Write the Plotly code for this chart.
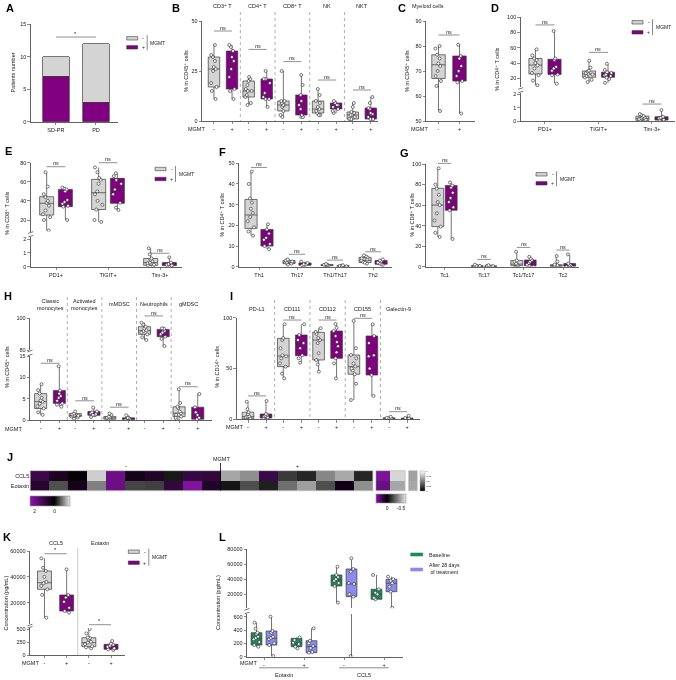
import plotly.graph_objects as go

# ======================= DATA =======================
A_categories = ["SD-PR", "PD"]
A_mgmt_pos = [7, 3]
A_mgmt_neg = [3, 9]

# box statistics are [min, q1, median, q3, max]
B_groups = ["CD3⁺ T", "CD4⁺ T", "CD8⁺ T", "NK", "NKT"]
B_neg_stats = [[11, 17, 26, 32, 38], [8, 12, 15, 20, 22], [2, 5, 8, 10, 25], [3, 4, 6, 10, 16], [0.5, 1, 3, 4.5, 9]]
B_pos_stats = [[11, 16, 26, 35, 38], [7, 11, 14, 21, 25], [2, 3, 8, 13, 23], [4, 6, 8, 9, 10], [0.5, 1, 3.5, 6.5, 12]]
B_neg_pts = [[11, 15, 17, 19, 25, 26, 27, 30, 32, 33, 38], [8, 9, 12, 13, 15, 15, 16, 18, 20, 21, 22],
             [2, 3, 5, 7, 8, 8, 9, 10, 10, 25], [3, 3, 4, 5, 6, 7, 9, 10, 13, 16], [0.5, 1, 1, 2, 3, 3, 4, 4.5, 7, 9]]
B_pos_pts = [[11, 15, 16, 22, 26, 30, 32, 35, 37, 38], [7, 11, 11, 12, 14, 19, 21, 21, 25],
             [2, 2, 3, 6, 8, 10, 13, 18, 23], [4, 5, 6, 7, 8, 8, 9, 10], [0.5, 1, 1, 2, 3.5, 4, 6, 6.5, 9, 12]]
B_ns = [45, 35.8, 29.7, 20.5, 15.5]

C_title = "Myeloid cells"
C_neg_stats = [[54, 67, 72.5, 76.5, 80]]
C_pos_stats = [[53, 66, 70, 76, 80.5]]
C_neg_pts = [[54, 64, 66, 68, 70, 72, 73, 75, 76.5, 79, 80]]
C_pos_pts = [[53, 65.5, 66, 68, 70, 72, 75, 76, 80.5]]
C_ns = [84.4]

D_groups = ["PD1+", "TIGIT+", "Tim-3+"]
D_neg_stats = [[11, 25.6, 37.4, 46, 58.4], [15, 21.3, 25.6, 29.6, 42.7], [0.02, 0.05, 0.2, 0.37, 0.52]]
D_pos_stats = [[13.4, 25, 33, 45, 82], [14, 21.3, 24.3, 28, 38.8], [0.02, 0.07, 0.2, 0.32, 0.82]]
D_neg_pts = [[11, 17, 24, 27, 33, 37, 40, 44, 46, 50, 58], [15, 18, 21, 23, 25, 26, 27, 29, 30, 34, 43],
             [0.02, 0.05, 0.1, 0.15, 0.2, 0.25, 0.3, 0.37, 0.45, 0.52]]
D_pos_pts = [[13, 24, 25, 30, 33, 35, 44, 46, 82], [14, 19, 21, 23, 24, 25, 27, 28, 31, 39],
             [0.02, 0.07, 0.1, 0.2, 0.25, 0.32, 0.82]]
D_ns = [90, 54, 1.27]

E_groups = ["PD1+", "TIGIT+", "Tim-3+"]
E_neg_stats = [[9, 25.2, 37.5, 44.4, 70], [18, 31, 48.6, 62.6, 75], [0.05, 0.1, 0.3, 0.6, 1.34]]
E_pos_stats = [[20, 34, 38.5, 52, 54], [30.5, 37.5, 52.5, 63.6, 69], [0.05, 0.08, 0.15, 0.3, 0.68]]
E_neg_pts = [[9, 20, 23, 26, 30, 35, 38, 40, 44, 47, 55, 70], [18, 20, 31, 36, 40, 47, 50, 58, 62, 64, 70, 75],
             [0.05, 0.1, 0.15, 0.25, 0.3, 0.4, 0.5, 0.6, 0.9, 1.34]]
E_pos_pts = [[20, 34, 35, 37, 39, 41, 50, 52, 53, 54], [30.5, 33, 38, 47, 52, 58, 62, 66, 69],
             [0.05, 0.08, 0.1, 0.15, 0.2, 0.3, 0.68]]
E_ns = [75.8, 80, 0.98]

F_groups = ["Th1", "Th17", "Th1/Th17", "Th2"]
F_neg_stats = [[15, 18.5, 25, 32.5, 46], [1, 1.5, 2, 3, 3.5], [0.3, 0.5, 0.8, 1.0, 1.3], [1.5, 2, 3, 4.5, 5.5]]
F_pos_stats = [[8.5, 10, 13.5, 18, 20.5], [0.5, 0.7, 1, 1.8, 2.5], [0.1, 0.2, 0.3, 0.5, 0.7], [0.8, 1.2, 2, 3, 3.5]]
F_neg_pts = [[15, 17, 19, 22, 24, 26, 28, 31, 33, 40, 46], [1, 1.5, 2, 2, 2.5, 3, 3, 3.5],
             [0.3, 0.5, 0.7, 0.8, 0.9, 1.0, 1.3], [1.5, 2, 2.5, 3, 3.5, 4, 4.5, 5, 5.5]]
F_pos_pts = [[8.5, 10, 11, 13, 14, 16, 18, 20.5], [0.5, 0.7, 1, 1.2, 1.8, 2.5],
             [0.1, 0.2, 0.3, 0.4, 0.5, 0.7], [0.8, 1.2, 1.5, 2, 2.5, 3, 3.5]]
F_ns = [48, 6, 3.2, 7.2]

G_groups = ["Tc1", "Tc17", "Tc1/Tc17", "Tc2"]
G_neg_stats = [[29, 39, 60, 76.3, 95.8], [0, 0.2, 0.5, 1, 2], [0, 1, 2.5, 6, 14.6], [0, 0.3, 1, 2, 10.4]]
G_pos_stats = [[27, 55, 65, 79, 82], [0, 0.2, 0.4, 0.8, 1.5], [0, 1, 3.5, 6.5, 9.7], [0, 0.5, 1.5, 3, 12]]
G_neg_pts = [[29, 33, 39, 45, 52, 60, 63, 70, 76, 80, 95.8], [0, 0.2, 0.3, 0.5, 0.8, 1, 2],
             [0, 0.5, 1, 2, 3, 5, 6, 14.6], [0, 0.3, 0.5, 1, 1.5, 2, 5, 10.4]]
G_pos_pts = [[27, 55, 58, 63, 67, 72, 77, 79, 82], [0, 0.2, 0.4, 0.6, 0.8, 1.5],
             [0, 1, 2, 3.5, 5, 6.5, 8, 9.7], [0, 0.5, 1, 1.5, 2, 3, 12]]
G_ns = [100.6, 7.1, 18.8, 16.2]

H_groups = ["Classic<br>monocytes", "Activated<br>monocytes", "mMDSC", "Neutrophils", "gMDSC"]
H_neg_stats = [[1.2, 2.7, 4.3, 6.2, 8.4], [0.3, 0.8, 1.0, 1.5, 2.0], [0, 0.2, 0.5, 0.8, 1.5],
               [86.3, 89.9, 92.2, 94.7, 97.2], [0, 0.8, 1.6, 3.1, 7.2]]
H_pos_stats = [[3.1, 3.9, 5.5, 6.9, 12.6], [0.7, 1.1, 1.5, 2.0, 2.9], [0, 0.1, 0.3, 0.5, 1.1],
               [82.5, 88.4, 91.2, 93, 93.7], [0, 0.2, 1.2, 3.0, 6.1]]
H_neg_pts = [[1.2, 1.8, 2.7, 3.2, 3.8, 4.3, 4.6, 5.2, 6.2, 7, 8.4], [0.3, 0.6, 0.8, 0.9, 1.0, 1.1, 1.3, 1.5, 2.0],
             [0, 0.2, 0.3, 0.5, 0.6, 0.8, 1.2, 1.5], [86.3, 88, 89.9, 91, 92, 92.5, 93.5, 94.7, 96, 97.2],
             [0, 0.5, 0.8, 1.2, 1.6, 2, 2.8, 3.1, 4, 7.2]]
H_pos_pts = [[3.1, 3.6, 3.9, 4.5, 5.2, 5.6, 6.2, 6.9, 12.6], [0.7, 1.1, 1.2, 1.4, 1.6, 1.8, 2.0, 2.9],
             [0, 0.1, 0.2, 0.3, 0.4, 0.5, 1.1], [82.5, 87, 88.4, 90, 91, 92, 93, 93.5, 93.7],
             [0, 0.2, 0.5, 1.2, 1.8, 3, 6.1]]
H_ns = [13.3, 4.5, 3.0, 101.5, 7.8]

I_groups = ["PD-L1", "CD111", "CD112", "CD155", "Galectin-9"]
I_neg_stats = [[0, 0.5, 2.6, 7, 17.3], [40.3, 51.8, 62.3, 79.7, 93.5], [46.9, 58.4, 78, 85.6, 89.6],
               [19, 44.3, 51.8, 63.3, 96.8], [0, 0.3, 0.8, 1.5, 2.5]]
I_pos_stats = [[0.5, 1.3, 3.5, 5.2, 18], [55.7, 62.6, 74.8, 83, 93.5], [40.3, 60, 72.8, 86.9, 93.8],
               [23, 43.6, 62.3, 82, 93.5], [0, 0.2, 0.5, 1.2, 3.5]]
I_neg_pts = [[0, 0.5, 1, 2, 2.6, 3, 5, 7, 10, 17.3], [40.3, 45, 51.8, 55, 60, 62, 63, 70, 78, 80, 93.5],
             [46.9, 54, 58.4, 65, 75, 78, 80, 84, 86, 89.6], [19, 35, 44.3, 48, 50, 52, 55, 60, 63.3, 70, 96.8],
             [0, 0.3, 0.5, 0.8, 1, 1.5, 2.5]]
I_pos_pts = [[0.5, 1.3, 2, 3, 3.5, 4.5, 5.2, 18], [55.7, 60, 63, 70, 75, 78, 83, 93.5],
             [40.3, 55, 60, 66, 72, 76, 82, 87, 90, 93.8], [23, 43.6, 50, 62, 63, 75, 82, 93.5],
             [0, 0.2, 0.4, 0.5, 1, 1.2, 3.5]]
I_ns = [23, 97.7, 97.7, 99.4, 7.5]

J_rows = ["CCL5", "Eotaxin"]
J_ccl5 = [1.02, 0.46, 0.10, -1.39, 1.87, 0.37, 0.56, -0.16, 0.93, 0.85,
          -1.12, -0.96, 1.02, -0.39, -0.25, -0.91, -1.14, -0.25]
J_eotaxin = [0.65, -0.53, 0.37, -0.86, 1.87, -0.46, -0.43, 0.85, 2.25, 0.56,
             -0.14, -0.53, -0.21, -0.75, -1.07, -0.53, 0.28, -0.96]
J_side_ccl5 = [0.35, -0.63]
J_side_eotaxin = [0.30, -0.49]
J_single = [0.63, 0.66]

K_groups = ["CCL5", "Eotaxin"]
K_neg_stats = [[8300, 30300, 35400, 44500, 54300], [130, 162, 240, 337, 506]]
K_pos_stats = [[12200, 13500, 20700, 25900, 45800], [97, 110, 162, 208, 272]]
K_neg_pts = [[8300, 26000, 30300, 33000, 35000, 36000, 40000, 44500, 47000, 54300],
             [130, 150, 170, 210, 240, 260, 300, 330, 340, 420, 506]]
K_pos_pts = [[12200, 13500, 16000, 20700, 24000, 25900, 45800], [97, 110, 130, 160, 180, 200, 220, 272]]
K_sig = [57900, 590]

L_groups = ["Eotaxin", "CCL5"]
L_base_stats = [[150, 175, 275, 360, 510], [125, 150, 200, 275, 290],
                [8600, 30900, 39000, 45700, 56800], [13100, 13100, 19800, 26500, 45700]]
L_post_stats = [[10, 175, 275, 385, 600], [60, 60, 150, 240, 425],
                [10, 16600, 33600, 53700, 68000], [1500, 23300, 34600, 40000, 43400]]
L_base_pts = [[150, 175, 220, 260, 280, 300, 340, 360, 420, 510], [125, 150, 190, 210, 250, 290],
              [8600, 30900, 35000, 38000, 40000, 43000, 45700, 56800], [13100, 15000, 19800, 22000, 26500, 45700]]
L_post_pts = [[10, 175, 200, 260, 280, 300, 360, 385, 600], [60, 70, 130, 160, 200, 240, 425],
              [10, 16600, 20000, 33600, 35000, 50000, 53700, 68000], [1500, 23300, 30000, 34600, 38000, 40000, 43400]]

# ======================= STYLE / HELPERS =======================
W, H = 676, 680
PURPLE = '#800080'
GRAY = '#d4d4d4'
EDGE = '#3a3a3a'
AXC = '#3a3a3a'
TXT = '#1a1a1a'
GREEN = '#1b8a5a'
LAV = '#8b8bef'
FONT = 'Liberation Sans, Arial, DejaVu Sans, sans-serif'
TS = 5.5

fig = go.Figure()
LAY, SHP, ANN = {}, [], []
_n = [0]


def fmt(v):
    return str(int(v)) if float(v).is_integer() else str(v)


def add_axes(px0, px1, py0, py1, xr, yr, xline=True, yline=True, xtv=None, xtt=None, ytv=None, ytt=None):
    _n[0] += 1
    k = '' if _n[0] == 1 else str(_n[0])
    base = dict(showgrid=False, zeroline=False, linecolor=AXC, linewidth=0.8, tickcolor=AXC,
                tickwidth=0.6, ticklen=2.5, tickfont=dict(size=TS, color=TXT, family=FONT), fixedrange=True)
    xa = dict(base, domain=[px0 / W, px1 / W], range=xr, anchor='y' + k, showline=xline)
    if xtv is None:
        xa.update(showticklabels=False, ticks='')
    else:
        xa.update(tickmode='array', tickvals=xtv, ticktext=xtt, ticks='outside' if xline else '')
    ya = dict(base, domain=[1 - py1 / H, 1 - py0 / H], range=yr, anchor='x' + k, showline=yline)
    if ytv is None:
        ya.update(showticklabels=False, ticks='')
    else:
        ya.update(tickmode='array', tickvals=ytv, ticktext=ytt if ytt is not None else [fmt(v) for v in ytv],
                  ticks='outside' if yline else '')
    LAY['xaxis' + k] = xa
    LAY['yaxis' + k] = ya
    return dict(x='x' + k, y='y' + k, px0=px0, px1=px1, py0=py0, py1=py1, xr=xr, yr=yr)


def dx(ax, v):
    a, b = ax['xr']
    return ax['px0'] + (v - a) / (b - a) * (ax['px1'] - ax['px0'])


def dy(ax, v):
    a, b = ax['yr']
    return ax['py1'] - (v - a) / (b - a) * (ax['py1'] - ax['py0'])


def txt(xp, yp, s, size=TS, xa='center', ya='middle', angle=0, bold=False, color=TXT):
    ANN.append(dict(x=xp / W, y=1 - yp / H, xref='paper', yref='paper', text=('<b>%s</b>' % s) if bold else s,
                    showarrow=False, font=dict(size=size, color=color, family=FONT), xanchor=xa, yanchor=ya,
                    textangle=angle, borderpad=0))


def seg(x0, y0, x1, y1, color=AXC, w=0.7, dash=None):
    SHP.append(dict(type='line', xref='paper', yref='paper', x0=x0 / W, y0=1 - y0 / H, x1=x1 / W, y1=1 - y1 / H,
                    line=dict(color=color, width=w, dash=dash)))


def rect(x0, y0, x1, y1, fill, lc=EDGE, w=0.6):
    SHP.append(dict(type='rect', xref='paper', yref='paper', x0=x0 / W, y0=1 - y1 / H, x1=x1 / W, y1=1 - y0 / H,
                    fillcolor=fill, line=dict(color=lc, width=w)))


def boxes(ax, pos, stats, pts, color, width):
    """Draw boxes on one axis segment; parts outside the segment's range are left out."""
    lo, hi = ax['yr']
    bp, bs, whisk = [], [], []
    for p, s in zip(pos, stats):
        if s[4] < lo or s[0] > hi:
            continue
        if s[1] <= hi and s[3] >= lo:
            bp.append(p)
            bs.append([max(s[0], lo), max(s[1], lo), s[2], min(s[3], hi), min(s[4], hi)])
        else:
            whisk.append((p, max(s[0], lo), min(s[4], hi)))
    if bp:
        fig.add_trace(go.Box(
            x=bp, lowerfence=[s[0] for s in bs], q1=[s[1] for s in bs], median=[s[2] for s in bs],
            q3=[s[3] for s in bs], upperfence=[s[4] for s in bs], width=width, fillcolor=color,
            line=dict(color=EDGE, width=0.7), whiskerwidth=0, boxpoints=False,
            xaxis=ax['x'], yaxis=ax['y'], showlegend=False, hoverinfo='skip'))
    for p, a, b in whisk:
        fig.add_trace(go.Scatter(x=[p, p], y=[a, b], mode='lines', line=dict(color=EDGE, width=0.7),
                                 xaxis=ax['x'], yaxis=ax['y'], showlegend=False, hoverinfo='skip'))
    xs, ys = [], []
    for p, vals in zip(pos, pts):
        for v in vals:
            if lo <= v <= hi:
                xs.append(p)
                ys.append(v)
    if xs:
        fig.add_trace(go.Box(
            x=xs, y=ys, width=width, boxpoints='all', jitter=0.65, pointpos=0,
            fillcolor='rgba(0,0,0,0)', line=dict(color='rgba(0,0,0,0)', width=0), whiskerwidth=0,
            marker=dict(size=3, color='white', line=dict(color='#222222', width=0.6)),
            xaxis=ax['x'], yaxis=ax['y'], showlegend=False, hoverinfo='skip'))


def sig(ax, x0, x1, yv, s='<i>ns</i>'):
    X0, X1, Y = dx(ax, x0), dx(ax, x1), dy(ax, yv)
    seg(X0, Y, X1, Y, color='#444444', w=0.6)
    txt((X0 + X1) / 2, Y - 3.3, s)


def ytitle(xp, yp, s):
    txt(xp, yp, s, angle=-90)


def letter(xp, yp, s):
    txt(xp, yp, s, size=11, bold=True, color='#000000')


def legend_mgmt(x0, y1, y2):
    rect(x0, y1 - 1.7, x0 + 11, y1 + 1.7, GRAY)
    rect(x0, y2 - 1.7, x0 + 11, y2 + 1.7, PURPLE)
    txt(x0 + 16.5, y1, '-', size=5)
    txt(x0 + 16.5, y2, '+', size=5)
    seg(x0 + 20.5, y1 - 3, x0 + 20.5, y2 + 3, w=0.6)
    txt(x0 + 22.5, (y1 + y2) / 2, 'MGMT', xa='left', size=5)


def brk(xp, yt, yb):
    for yy in (yt + 1, yb - 1):
        seg(xp - 2.5, yy + 0.8, xp + 2.5, yy - 0.8, w=0.7)


def vsep(xp, yt, yb, dash='dot', color='#777777'):
    seg(xp, yt, xp, yb, color=color, w=0.6, dash=dash)


# ======================= PANEL A =======================
axA = add_axes(30.7, 118, 24, 121.7, [-0.63, 1.55], [0, 15], xtv=[0, 1], xtt=A_categories, ytv=[0, 5, 10, 15])
fig.add_trace(go.Bar(x=[0, 1], y=A_mgmt_pos, width=0.665, marker=dict(color=PURPLE, line=dict(color=EDGE, width=0.7)),
                     xaxis=axA['x'], yaxis=axA['y'], showlegend=False, hoverinfo='skip'))
fig.add_trace(go.Bar(x=[0, 1], y=A_mgmt_neg, width=0.665, marker=dict(color=GRAY, line=dict(color=EDGE, width=0.7)),
                     xaxis=axA['x'], yaxis=axA['y'], showlegend=False, hoverinfo='skip'))
sig(axA, 0, 1, 13.0, '*')
ytitle(12.5, 73, 'Patients number')
legend_mgmt(126.7, 38.3, 47.3)
letter(10, 8, 'A')

# ======================= PANEL B =======================
oB = 0.26
axB = add_axes(202, 378, 21, 121, [-0.605, 4.467], [0, 50],
               xtv=[i + o for i in range(5) for o in (-oB, oB)], xtt=['-', '+'] * 5, ytv=[0, 25, 50])
boxes(axB, [i - oB for i in range(5)], B_neg_stats, B_neg_pts, GRAY, 0.33)
boxes(axB, [i + oB for i in range(5)], B_pos_stats, B_pos_pts, PURPLE, 0.33)
for i, g in enumerate(B_groups):
    sig(axB, i - oB, i + oB, B_ns[i])
    txt(dx(axB, i), 6.5, g)
for i in range(4):
    vsep(dx(axB, i + 0.5), 12, 121)
txt(206, 128.5, 'MGMT', xa='right')
ytitle(186, 71, '% in CD45⁺ cells')
letter(176, 8, 'B')

# ======================= PANEL C =======================
axC = add_axes(426, 475, 21, 121, [-0.595, 1.738], [50, 90], xtv=[0, 1], xtt=['-', '+'], ytv=[50, 60, 70, 80, 90])
boxes(axC, [0], C_neg_stats, C_neg_pts, GRAY, 0.64)
boxes(axC, [1], C_pos_stats, C_pos_pts, PURPLE, 0.64)
sig(axC, 0, 1, C_ns[0])
txt(428, 6.5, C_title)
txt(429, 128.5, 'MGMT', xa='right')
ytitle(407, 71, '% in CD45⁺ cells')
letter(402, 8, 'C')

# ======================= PANEL D =======================
oD = 0.178
xrD = [-0.454, 2.43]
axDt = add_axes(520.7, 675, 17.3, 87.45, xrD, [8, 100], xline=False, ytv=[20, 40, 60, 80, 100])
axDb = add_axes(520.7, 675, 93.0, 121, xrD, [0, 2.1], xtv=[0, 1, 2], xtt=D_groups, ytv=[0, 1, 2])
for ax in (axDt, axDb):
    boxes(ax, [i - oD for i in range(3)], D_neg_stats, D_neg_pts, GRAY, 0.245)
    boxes(ax, [i + oD for i in range(3)], D_pos_stats, D_pos_pts, PURPLE, 0.245)
sig(axDt, -oD, oD, D_ns[0])
sig(axDt, 1 - oD, 1 + oD, D_ns[1])
sig(axDb, 2 - oD, 2 + oD, D_ns[2])
brk(520.7, 87.45, 93.0)
legend_mgmt(632, 22.3, 32.3)
ytitle(497, 69, '% in CD4⁺ T cells')
letter(495, 8, 'D')

# ======================= PANEL E =======================
oE = 0.18
xrE = [-0.487, 2.417]
axEt = add_axes(30.7, 181.7, 162.7, 231.5, xrE, [8, 80], xline=False, ytv=[20, 40, 60, 80])
axEb = add_axes(30.7, 181.7, 237.2, 266.7, xrE, [0, 2.15], xtv=[0, 1, 2], xtt=E_groups, ytv=[0, 1, 2])
for ax in (axEt, axEb):
    boxes(ax, [i - oE for i in range(3)], E_neg_stats, E_neg_pts, GRAY, 0.27)
    boxes(ax, [i + oE for i in range(3)], E_pos_stats, E_pos_pts, PURPLE, 0.27)
sig(axEt, -oE, oE, E_ns[0])
sig(axEt, 1 - oE, 1 + oE, E_ns[1])
sig(axEb, 2 - oE, 2 + oE, E_ns[2])
brk(30.7, 231.5, 237.2)
legend_mgmt(155, 169, 179)
ytitle(7, 213, '% in CD8⁺ T cells')
letter(8, 151, 'E')

# ======================= PANEL F =======================
oF = 0.21
axF = add_axes(239, 391.7, 163.3, 266.7, [-0.526, 3.49], [0, 50], xtv=[0, 1, 2, 3], xtt=F_groups,
               ytv=[0, 10, 20, 30, 40, 50])
boxes(axF, [i - oF for i in range(4)], F_neg_stats, F_neg_pts, GRAY, 0.32)
boxes(axF, [i + oF for i in range(4)], F_pos_stats, F_pos_pts, PURPLE, 0.32)
for i in range(4):
    sig(axF, i - oF, i + oF, F_ns[i])
ytitle(221.7, 215, '% in CD4⁺ T cells')
letter(222, 152, 'F')

# ======================= PANEL G =======================
oG = 0.17
axG = add_axes(425.7, 579, 164, 266.7, [-0.476, 3.405], [0, 100], xtv=[0, 1, 2, 3], xtt=G_groups,
               ytv=[0, 20, 40, 60, 80, 100])
boxes(axG, [i - oG for i in range(4)], G_neg_stats, G_neg_pts, GRAY, 0.3)
boxes(axG, [i + oG for i in range(4)], G_pos_stats, G_pos_pts, PURPLE, 0.3)
for i in range(4):
    sig(axG, i - oG, i + oG, G_ns[i])
legend_mgmt(536, 174.3, 183.3)
ytitle(411.7, 215, '% in CD8⁺ T cells')
letter(404, 153, 'G')

# ======================= PANEL H =======================
oH = 0.27
xrH = [-0.578, 4.673]
axHt = add_axes(30, 211.7, 318.3, 350, xrH, [80, 100], xline=False, ytv=[80, 100])
axHb = add_axes(30, 211.7, 356, 420, xrH, [0, 15], xtv=[i + o for i in range(5) for o in (-oH, oH)],
                xtt=['-', '+'] * 5, ytv=[0, 5, 10, 15])
for ax in (axHt, axHb):
    boxes(ax, [i - oH for i in range(5)], H_neg_stats, H_neg_pts, GRAY, 0.35)
    boxes(ax, [i + oH for i in range(5)], H_pos_stats, H_pos_pts, PURPLE, 0.35)
for i in range(5):
    sig(axHt if i == 3 else axHb, i - oH, i + oH, H_ns[i])
    txt(dx(axHb, i), 304, H_groups[i])
for i in range(4):
    vsep(dx(axHb, i + 0.5), 297, 420)
brk(30, 350, 356)
txt(22.5, 428.5, 'MGMT', xa='right')
ytitle(7, 367, '% in CD45⁺ cells')
letter(8, 296, 'H')

# ======================= PANEL I =======================
oI = 0.255
axI = add_axes(236.7, 420, 317.7, 419.3, [-0.575, 4.618], [0, 100],
               xtv=[i + o for i in range(5) for o in (-oI, oI)], xtt=['-', '+'] * 5, ytv=[0, 50, 100])
boxes(axI, [i - oI for i in range(5)], I_neg_stats, I_neg_pts, GRAY, 0.33)
boxes(axI, [i + oI for i in range(5)], I_pos_stats, I_pos_pts, PURPLE, 0.33)
for i in range(5):
    sig(axI, i - oI, i + oI, I_ns[i])
    txt(dx(axI, i), 309, I_groups[i])
for i in range(4):
    vsep(dx(axI, i + 0.5), 300, 419.3)
txt(243.5, 427, 'MGMT', xa='right')
ytitle(216.7, 367, '% in CD14⁺ cells')
letter(232, 296, 'I')

# ======================= PANEL J =======================
CS_MAIN = [[0, '#8c14ac'], [0.61, '#000000'], [1, '#e6e6e6']]
axJ = add_axes(30.2, 372.8, 470.7, 490.7, [-0.5, 17.5], [-0.5, 1.5], xline=False, yline=False,
               ytv=[0, 1], ytt=[J_rows[1], J_rows[0]])
fig.add_trace(go.Heatmap(
    z=[[-v for v in J_eotaxin], [-v for v in J_ccl5]], x=list(range(len(J_ccl5))), y=[0, 1],
    colorscale=CS_MAIN, zmin=-2.43, zmax=1.55, xaxis=axJ['x'], yaxis=axJ['y'], hoverinfo='skip',
    colorbar=dict(orientation='h', x=50.25 / W, xanchor='center', y=1 - 496 / H, yanchor='top',
                  len=40.1, lenmode='pixels', thickness=9.7, thicknessmode='pixels',
                  tickvals=[-2, 0], ticktext=['2', '0'], ticks='', tickfont=dict(size=5, color=TXT, family=FONT),
                  outlinewidth=0.6, outlinecolor='#999999', xpad=0, ypad=0)))
rect(30.2, 470.7, 372.8, 490.7, 'rgba(0,0,0,0)', lc='#aaaaaa', w=0.6)

CS_SIDE = [[0, '#8c14ac'], [0.369, '#000000'], [1, '#e6e6e6']]
axJ2 = add_axes(375.9, 405.2, 470.7, 490.7, [-0.5, 1.5], [-0.5, 1.5], xline=False, yline=False)
fig.add_trace(go.Heatmap(
    z=[[-v for v in J_side_eotaxin], [-v for v in J_side_ccl5]], x=[0, 1], y=[0, 1],
    colorscale=CS_SIDE, zmin=-0.397, zmax=0.678, xaxis=axJ2['x'], yaxis=axJ2['y'], hoverinfo='skip',
    colorbar=dict(orientation='h', x=391 / W, xanchor='center', y=1 - 494 / H, yanchor='top',
                  len=30.1, lenmode='pixels', thickness=8.7, thicknessmode='pixels',
                  tickvals=[0, 0.5], ticktext=['0', '-0.5'], ticks='', tickfont=dict(size=5, color=TXT, family=FONT),
                  outlinewidth=0.6, outlinecolor='#999999', xpad=0, ypad=0)))
rect(375.9, 470.7, 405.2, 490.7, 'rgba(0,0,0,0)', lc='#aaaaaa', w=0.6)

axJ3 = add_axes(408.6, 417.2, 470.7, 490.7, [-0.5, 0.5], [-0.5, 1.5], xline=False, yline=False)
fig.add_trace(go.Heatmap(
    z=[[J_single[1]], [J_single[0]]], x=[0], y=[0, 1], colorscale=[[0, '#000000'], [1, '#ffffff']],
    zmin=0, zmax=1, xaxis=axJ3['x'], yaxis=axJ3['y'], hoverinfo='skip',
    colorbar=dict(orientation='v', x=420.3 / W, xanchor='left', y=1 - 481 / H, yanchor='middle',
                  len=20, lenmode='pixels', thickness=4.5, thicknessmode='pixels',
                  tickvals=[0, 0.25, 0.5, 0.75, 1], ticks='', tickfont=dict(size=2.5, color=TXT, family=FONT),
                  outlinewidth=0.4, outlinecolor='#999999', xpad=0, ypad=0)))
rect(408.6, 470.7, 417.2, 490.7, 'rgba(0,0,0,0)', lc='#aaaaaa', w=0.6)

seg(220.5, 463, 220.5, 490.7, color='#000000', w=0.8)
txt(221, 459, 'MGMT')
txt(126.3, 465.7, '-')
txt(297.4, 465.5, '+')
letter(10, 457, 'J')

# ======================= PANEL K =======================
xrK = [-0.653, 3.63]
axKt = add_axes(30, 125, 550.5, 624, xrK, [3400, 60400], xline=False, ytv=[20000, 40000, 60000])
axKb = add_axes(30, 125, 628.3, 655, xrK, [0, 520], xtv=[0, 1, 2, 3], xtt=['-', '+', '-', '+'], ytv=[0, 250, 500])
for ax in (axKt, axKb):
    boxes(ax, [0, 2], K_neg_stats, K_neg_pts, GRAY, 0.63)
    boxes(ax, [1, 3], K_pos_stats, K_pos_pts, PURPLE, 0.63)
sig(axKt, 0, 1, K_sig[0], '*')
sig(axKb, 2, 3, K_sig[1], '*')
vsep(dx(axKb, 1.5), 548, 655, dash=None, color='#aaaaaa')
txt(dx(axKb, 0.5), 543, K_groups[0])
txt(dx(axKb, 2.5), 543, K_groups[1])
brk(30, 624, 628.3)
txt(39.5, 663, 'MGMT', xa='right')
legend_mgmt(128.3, 551.7, 562.7)
ytitle(5.5, 603, 'Concentration (pg/mL)')
letter(7, 537, 'K')

# ======================= PANEL L =======================
oL = 0.1875
xrL = [-0.425, 3.4675]
axLt = add_axes(247, 402.7, 549.0, 608.3, xrL, [1000, 80500], xline=False, ytv=[20000, 40000, 60000, 80000])
axLb = add_axes(247, 402.7, 614.0, 656.7, xrL, [0, 640], xtv=[0, 1, 2, 3], xtt=['-', '+', '-', '+'],
                ytv=[0, 200, 400, 600])
for ax in (axLt, axLb):
    boxes(ax, [i - oL for i in range(4)], L_base_stats, L_base_pts, GREEN, 0.27)
    boxes(ax, [i + oL for i in range(4)], L_post_stats, L_post_pts, LAV, 0.27)
brk(247, 608.3, 614.0)
txt(257.5, 663, 'MGMT', xa='right')
for gi, g in enumerate(L_groups):
    xa0, xa1 = dx(axLb, 2 * gi - 0.12), dx(axLb, 2 * gi + 1.12)
    seg(xa0, 667.8, xa1, 667.8, w=0.6)
    txt((xa0 + xa1) / 2, 675.3, g)
rect(410.7, 553, 422.7, 556, GREEN, lc=GREEN)
rect(410.7, 568, 422.7, 571, LAV, lc=LAV)
txt(428, 554.5, 'Baseline', xa='left')
txt(428, 568.8, 'After 28 days<br>of treatment', xa='left', size=5.2)
ytitle(218, 603, 'Concentration (pg/mL)')
letter(222, 537, 'L')

# ======================= LAYOUT =======================
fig.update_layout(width=W, height=H, margin=dict(l=0, r=0, t=0, b=0, autoexpand=False),
                  paper_bgcolor='white', plot_bgcolor='rgba(0,0,0,0)', showlegend=False,
                  barmode='stack', boxmode='overlay', hovermode=False,
                  font=dict(family=FONT, size=TS, color=TXT), shapes=SHP, annotations=ANN, **LAY)

# remove the browser's default page margin so the figure sits at the window's top-left corner,
# and use grayscale text antialiasing
PAGE_FIX = ("document.body.style.margin='0px';"
            "var st=document.createElement('style');"
            "st.innerHTML='body{margin:0;overflow:hidden}.main-svg{will-change:transform}.modebar{display:none!important}';"
            "document.head.appendChild(st);")
fig.write_html("out.html", post_script=PAGE_FIX, config={'displayModeBar': False, 'staticPlot': True})
